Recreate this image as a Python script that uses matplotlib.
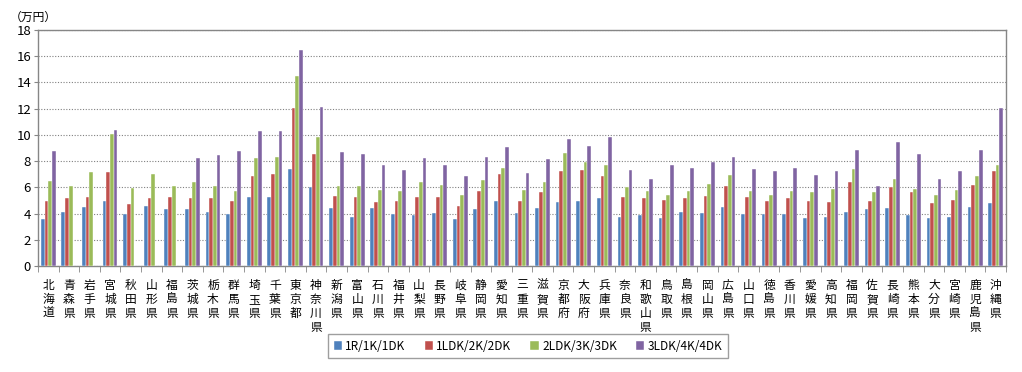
import matplotlib
matplotlib.use("Agg")
import matplotlib.pyplot as plt
import numpy as np

# ---------------------------------------------------------------------------
# Data: rent by prefecture and floor plan (万円)
# ---------------------------------------------------------------------------
prefectures = [
    "北海道", "青森県", "岩手県", "宮城県", "秋田県", "山形県", "福島県",
    "茨城県", "栃木県", "群馬県", "埼玉県", "千葉県", "東京都", "神奈川県",
    "新潟県", "富山県", "石川県", "福井県", "山梨県", "長野県", "岐阜県",
    "静岡県", "愛知県", "三重県", "滋賀県", "京都府", "大阪府", "兵庫県",
    "奈良県", "和歌山県", "鳥取県", "島根県", "岡山県", "広島県", "山口県",
    "徳島県", "香川県", "愛媛県", "高知県", "福岡県", "佐賀県", "長崎県",
    "熊本県", "大分県", "宮崎県", "鹿児島県", "沖縄県",
]

series_names = ["1R/1K/1DK", "1LDK/2K/2DK", "2LDK/3K/3DK", "3LDK/4K/4DK"]

rent_1r = [
    3.56, 4.14, 4.50, 4.98, 3.97, 4.60, 4.32,
    4.32, 4.14, 3.97, 5.26, 5.26, 7.40, 6.03,
    4.42, 3.76, 4.42, 3.97, 3.86, 4.04, 3.59,
    4.32, 4.98, 4.04, 4.42, 4.88, 4.98, 5.16,
    3.76, 3.86, 3.66, 4.14, 4.04, 4.53, 3.97,
    3.97, 3.97, 3.66, 3.76, 4.14, 4.32, 4.42,
    3.86, 3.66, 3.76, 4.53, 4.78,
]
rent_1ldk = [
    4.98, 5.16, 5.26, 7.20, 4.70, 5.16, 5.26,
    5.16, 5.16, 4.98, 6.84, 7.04, 12.05, 8.52,
    5.34, 5.26, 4.88, 4.98, 5.26, 5.26, 4.60,
    5.70, 7.04, 4.98, 5.62, 7.22, 7.30, 6.84,
    5.26, 5.16, 5.06, 5.16, 5.34, 6.08, 5.26,
    4.98, 5.16, 4.98, 4.88, 6.38, 4.98, 6.00,
    5.62, 4.78, 5.06, 6.18, 7.22,
]
rent_2ldk = [
    6.46, 6.08, 7.20, 10.09, 5.92, 7.04, 6.08,
    6.38, 6.08, 5.70, 8.24, 8.34, 14.47, 9.81,
    6.08, 6.08, 5.82, 5.70, 6.38, 6.18, 5.44,
    6.53, 7.48, 5.82, 6.38, 8.59, 7.96, 7.68,
    6.03, 5.70, 5.44, 5.70, 6.28, 6.92, 5.70,
    5.44, 5.70, 5.62, 5.90, 7.40, 5.62, 6.66,
    5.90, 5.44, 5.82, 6.84, 7.68,
]
nan = np.nan
rent_3ldk = [
    8.77, nan, nan, 10.35, nan, nan, nan,
    8.24, 8.44, 8.77, 10.27, 10.27, 16.50, 12.15,
    8.70, 8.52, 7.68, 7.30, 8.24, 7.68, 6.84,
    8.34, 9.08, 7.12, 8.14, 9.71, 9.18, 9.81,
    7.30, 6.66, 7.68, 7.48, 7.96, 8.34, 7.40,
    7.22, 7.48, 6.92, 7.25, 8.87, 6.08, 9.43,
    8.52, 6.66, 7.22, 8.87, 12.05,
]

colors = ["#4F81BD", "#C0504D", "#9BBB59", "#8064A2"]

# ---------------------------------------------------------------------------
# Plot
# ---------------------------------------------------------------------------
plt.rcParams["font.family"] = ["Noto Sans CJK JP", "DejaVu Sans"]

fig = plt.figure(figsize=(10.22, 3.72), dpi=100)
ax = fig.add_axes([38 / 1022, 106 / 372, 968 / 1022, 236 / 372])

x = np.arange(len(prefectures))
width = 0.18
all_series = [rent_1r, rent_1ldk, rent_2ldk, rent_3ldk]
for i, (vals, name, col) in enumerate(zip(all_series, series_names, colors)):
    ax.bar(x + (i - 1.5) * width, vals, width, color=col, label=name,
           edgecolor="white", linewidth=0.3, zorder=3)

ax.set_xlim(-0.5, len(prefectures) - 0.5)
ax.set_ylim(0, 18)
ax.set_yticks(np.arange(0, 19, 2))
ax.yaxis.grid(True, linestyle=(0, (1, 1.5)), color="#808080", linewidth=0.8, zorder=0)

# vertical Japanese labels, one character per line
ax.set_xticks(x)
ax.set_xticklabels(["\n".join(p) for p in prefectures], fontsize=8.5,
                   va="top", linespacing=1.12)
ax.tick_params(axis="x", which="major", length=0, pad=9)
ax.set_xticks(np.arange(-0.5, len(prefectures), 1), minor=True)
ax.tick_params(axis="x", which="minor", length=4, color="#868686", direction="out")
ax.tick_params(axis="y", length=3, color="#868686", labelsize=9.5, pad=2)

for s in ax.spines.values():
    s.set_color("#868686")
    s.set_linewidth(1.0)

fig.text(10 / 1022, 1 - 17 / 372, "（万円）", fontsize=8.5, va="center", ha="left")

leg = ax.legend(loc="center", bbox_to_anchor=(528 / 1022, 26 / 372),
                bbox_transform=fig.transFigure, ncol=4, fontsize=8.5,
                frameon=True, fancybox=False, edgecolor="#868686",
                handlelength=0.7, handleheight=0.7, handletextpad=0.3,
                columnspacing=1.6, borderpad=0.5)
leg.get_frame().set_linewidth(1.0)

fig.savefig("out.png", dpi=100)
plt.close(fig)
